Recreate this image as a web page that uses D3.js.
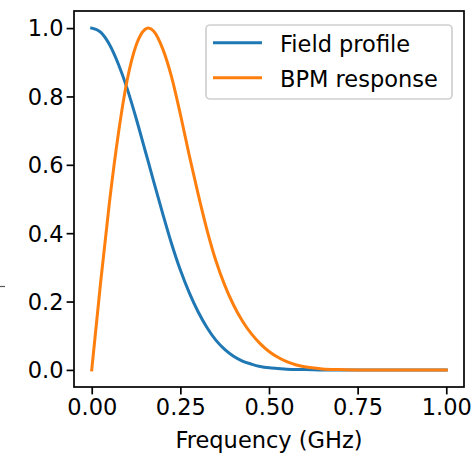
<!DOCTYPE html>
<html>
<head>
<meta charset="utf-8">
<script src="https://cdn.jsdelivr.net/npm/d3@7"></script>
<style>
  html, body { margin: 0; padding: 0; background: #fff; }
  svg { display: block; }
  text { font-family: "DejaVu Sans", sans-serif; fill: #000; }
</style>
</head>
<body>
<svg id="chart" width="475" height="462"></svg>
<script>
// ---- data ----
const frequency = [0, 0.025, 0.05, 0.075, 0.1, 0.125, 0.15, 0.16, 0.175, 0.2, 0.225, 0.25, 0.275, 0.3, 0.325, 0.35, 0.375, 0.4, 0.425, 0.45, 0.475, 0.5, 0.525, 0.55, 0.575, 0.6, 0.65, 0.7, 0.75, 0.8, 0.85, 0.9, 0.95, 1.0];
const fieldProfile = [1.000, 0.988, 0.952, 0.895, 0.823, 0.737, 0.644, 0.607, 0.550, 0.458, 0.370, 0.292, 0.226, 0.170, 0.124, 0.087, 0.060, 0.040, 0.026, 0.017, 0.010, 0.006, 0.004, 0.002, 0.001, 0.001, 0.000, 0.000, 0.000, 0.000, 0.000, 0.000, 0.000, 0.000];
const bpmResponse = [0.000, 0.255, 0.490, 0.690, 0.848, 0.949, 0.996, 1.000, 0.991, 0.940, 0.858, 0.748, 0.628, 0.515, 0.410, 0.320, 0.248, 0.190, 0.143, 0.106, 0.077, 0.054, 0.037, 0.024, 0.015, 0.009, 0.003, 0.001, 0.000, 0.000, 0.000, 0.000, 0.000, 0.000];
const seriesNames = ["Field profile", "BPM response"];
const seriesColors = ["#1f77b4", "#ff7f0e"];
const xTicks = [0, 0.25, 0.5, 0.75, 1.0];
const yTicks = [0, 0.2, 0.4, 0.6, 0.8, 1.0];
const xLabel = "Frequency (GHz)";

// ---- layout ----
const svg = d3.select("#chart");
const L = 74, R = 464, T = 11, B = 387;
const fs = 22.5;

const x = d3.scaleLinear().domain([-0.05, 1.05]).range([L, R]);
const y = d3.scaleLinear().domain([-0.05, 1.05]).range([B, T]);

// stray tick fragment at far left (present in reference)
svg.append("line").attr("x1", 0).attr("x2", 5).attr("y1", 286.5).attr("y2", 286.5)
  .attr("stroke", "#555").attr("stroke-width", 1.2);

// lines
const series = [fieldProfile, bpmResponse];
const line = d3.line().x((d, i) => x(frequency[i])).y(d => y(d)).curve(d3.curveMonotoneX);
series.forEach((s, k) => {
  svg.append("path").datum(s).attr("d", line)
    .attr("fill", "none").attr("stroke", seriesColors[k])
    .attr("stroke-width", 3).attr("stroke-linejoin", "round").attr("stroke-linecap", "square");
});

// axes
const xAxis = d3.axisBottom(x).tickValues(xTicks).tickFormat(d3.format(".2f")).tickSize(7.4).tickPadding(7);
const yAxis = d3.axisLeft(y).tickValues(yTicks).tickFormat(d3.format(".1f")).tickSize(7.4).tickPadding(7);

const gx = svg.append("g").attr("transform", `translate(0,${B})`).call(xAxis);
const gy = svg.append("g").attr("transform", `translate(${L},0)`).call(yAxis);
[gx, gy].forEach(g => {
  g.select(".domain").remove();
  g.selectAll(".tick line").attr("stroke", "#000").attr("stroke-width", 1.7);
  g.selectAll(".tick text").attr("font-size", fs).attr("font-family", "DejaVu Sans").attr("fill", "#000");
});
gx.selectAll(".tick text").attr("dy", "0.71em").attr("y", 12);
gy.selectAll(".tick text").attr("x", -10.5).attr("dy", "0.35em");

// spines
svg.append("rect").attr("x", L).attr("y", T).attr("width", R - L).attr("height", B - T)
  .attr("fill", "none").attr("stroke", "#000").attr("stroke-width", 1.7);

// x label
svg.append("text").attr("x", (L + R) / 2).attr("y", 448).attr("text-anchor", "middle")
  .attr("font-size", fs).text(xLabel);

// legend
const lg = svg.append("g");
lg.append("rect").attr("x", 206).attr("y", 25).attr("width", 246).attr("height", 74)
  .attr("rx", 4).attr("fill", "#fff").attr("fill-opacity", 0.8)
  .attr("stroke", "#d0d0d0").attr("stroke-width", 1.7);
seriesNames.forEach((n, k) => {
  const yy = 42.7 + k * 35;
  lg.append("line").attr("x1", 213).attr("x2", 262).attr("y1", yy).attr("y2", yy)
    .attr("stroke", seriesColors[k]).attr("stroke-width", 3);
  lg.append("text").attr("x", 280).attr("y", yy + 9).attr("font-size", fs).text(n);
});
</script>
</body>
</html>
